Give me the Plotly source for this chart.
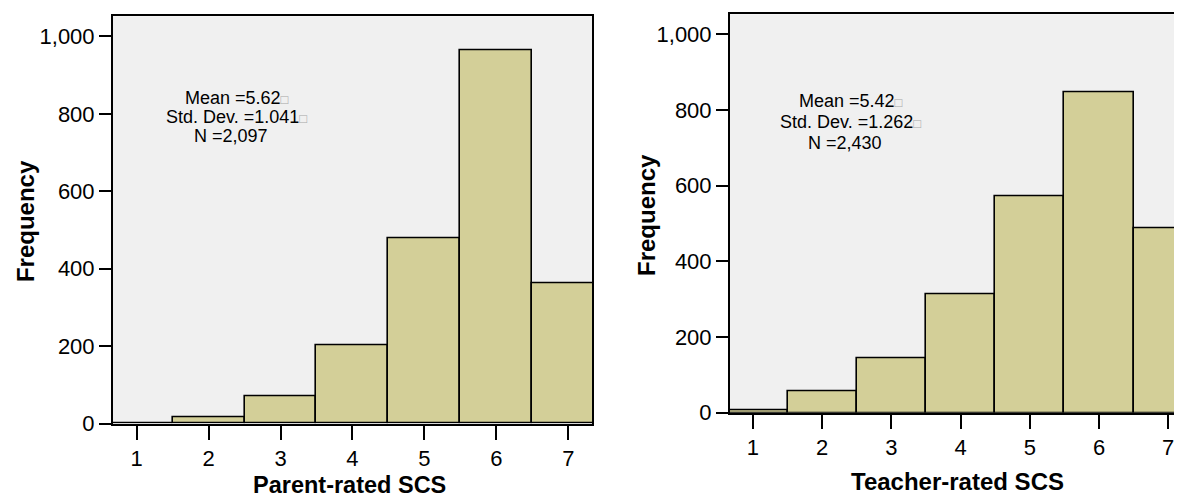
import plotly.graph_objects as go

# ---- data ----
scores = [1, 2, 3, 4, 5, 6, 7]
parent_freq = [2, 17, 70, 203, 478, 965, 362]
teacher_freq = [7, 56, 145, 314, 573, 848, 487]
y_tickvals = [0, 200, 400, 600, 800, 1000]
y_ticktext = ["0", "200", "400", "600", "800", "1,000"]
x_ticklabels = ["1", "2", "3", "4", "5", "6", "7"]
parent_stats = ["Mean =5.62", "Std. Dev. =1.041", "N =2,097"]
teacher_stats = ["Mean =5.42", "Std. Dev. =1.262", "N =2,430"]
parent_title = "Parent-rated SCS"
teacher_title = "Teacher-rated SCS"
y_title = "Frequency"

OFF = 8      # page body margin offset
K = 0.971    # observed vertical scale of the rendered page
W, H = 1174, 515
FONT = "Liberation Sans, Arial, Helvetica, sans-serif"
BAR = "#D3CF98"
BG = "#F0F0F0"


def sx(p):
    return (p - OFF) / W


def sy(p):
    return 1 - (p / K - OFF) / H


fig = go.Figure()
for i, vals in enumerate([parent_freq, teacher_freq]):
    fig.add_trace(go.Bar(
        x=scores, y=vals, width=1,
        marker=dict(color=BAR, line=dict(color="black", width=1.6)),
        xaxis="x" if i == 0 else "x2", yaxis="y" if i == 0 else "y2",
        showlegend=False, hoverinfo="x+y",
    ))

axis_common = dict(
    showgrid=False, zeroline=False, showline=True, linecolor="black", linewidth=2,
    ticks="outside", tickcolor="black", tickwidth=2,
    tickfont=dict(family=FONT, size=22, color="black"),
)

r_end = 1 + (1182 - 753) / 69.2

fig.update_layout(
    width=W, height=H,
    margin=dict(l=0, r=0, t=0, b=0),
    paper_bgcolor="white", plot_bgcolor=BG,
    bargap=0, barmode="overlay",
    xaxis=dict(domain=[sx(113), sx(592)], range=[0.672, 7.329], anchor="y",
               tickvals=scores, ticktext=x_ticklabels, ticklen=14, mirror=True, **axis_common),
    yaxis=dict(domain=[sy(421.7), sy(16)], range=[0, 1052], anchor="x",
               tickvals=y_tickvals, ticktext=y_ticktext, ticklen=12, mirror=True, **axis_common),
    xaxis2=dict(domain=[sx(730), 1.0], range=[0.668, r_end], anchor="y2",
                tickvals=scores, ticktext=x_ticklabels, ticklen=14, mirror=True, **axis_common),
    yaxis2=dict(domain=[sy(411), sy(14)], range=[0, 1053], anchor="x2",
                tickvals=y_tickvals, ticktext=y_ticktext, ticklen=12, mirror=False, **axis_common),
)

box = "<span style='color:#a8a8a8;font-size:13px'>□</span>"
ann = []


def add_text(x, y, text, size, angle=0, bold=False):
    t = "<b>" + text + "</b>" if bold else text
    ann.append(dict(x=sx(x), y=sy(y), xref="paper", yref="paper", text=t,
                    xanchor="center", yanchor="middle", textangle=angle,
                    showarrow=False, font=dict(family=FONT, size=size, color="black")))


# stats blocks
add_text(237, 97, parent_stats[0] + box, 18)
add_text(236, 116, parent_stats[1] + box, 18)
add_text(231, 135, parent_stats[2], 18)
add_text(851, 100, teacher_stats[0] + box, 18)
add_text(850, 121, teacher_stats[1] + box, 18)
add_text(845, 142, teacher_stats[2], 18)

# axis titles
add_text(349, 483, parent_title, 23.5, bold=True)
add_text(957, 479, teacher_title, 24, bold=True)
add_text(25, 220, y_title, 24, angle=-90, bold=True)
add_text(646, 214, y_title, 24, angle=-90, bold=True)

fig.update_layout(annotations=ann)

fig.write_html("out.html")
